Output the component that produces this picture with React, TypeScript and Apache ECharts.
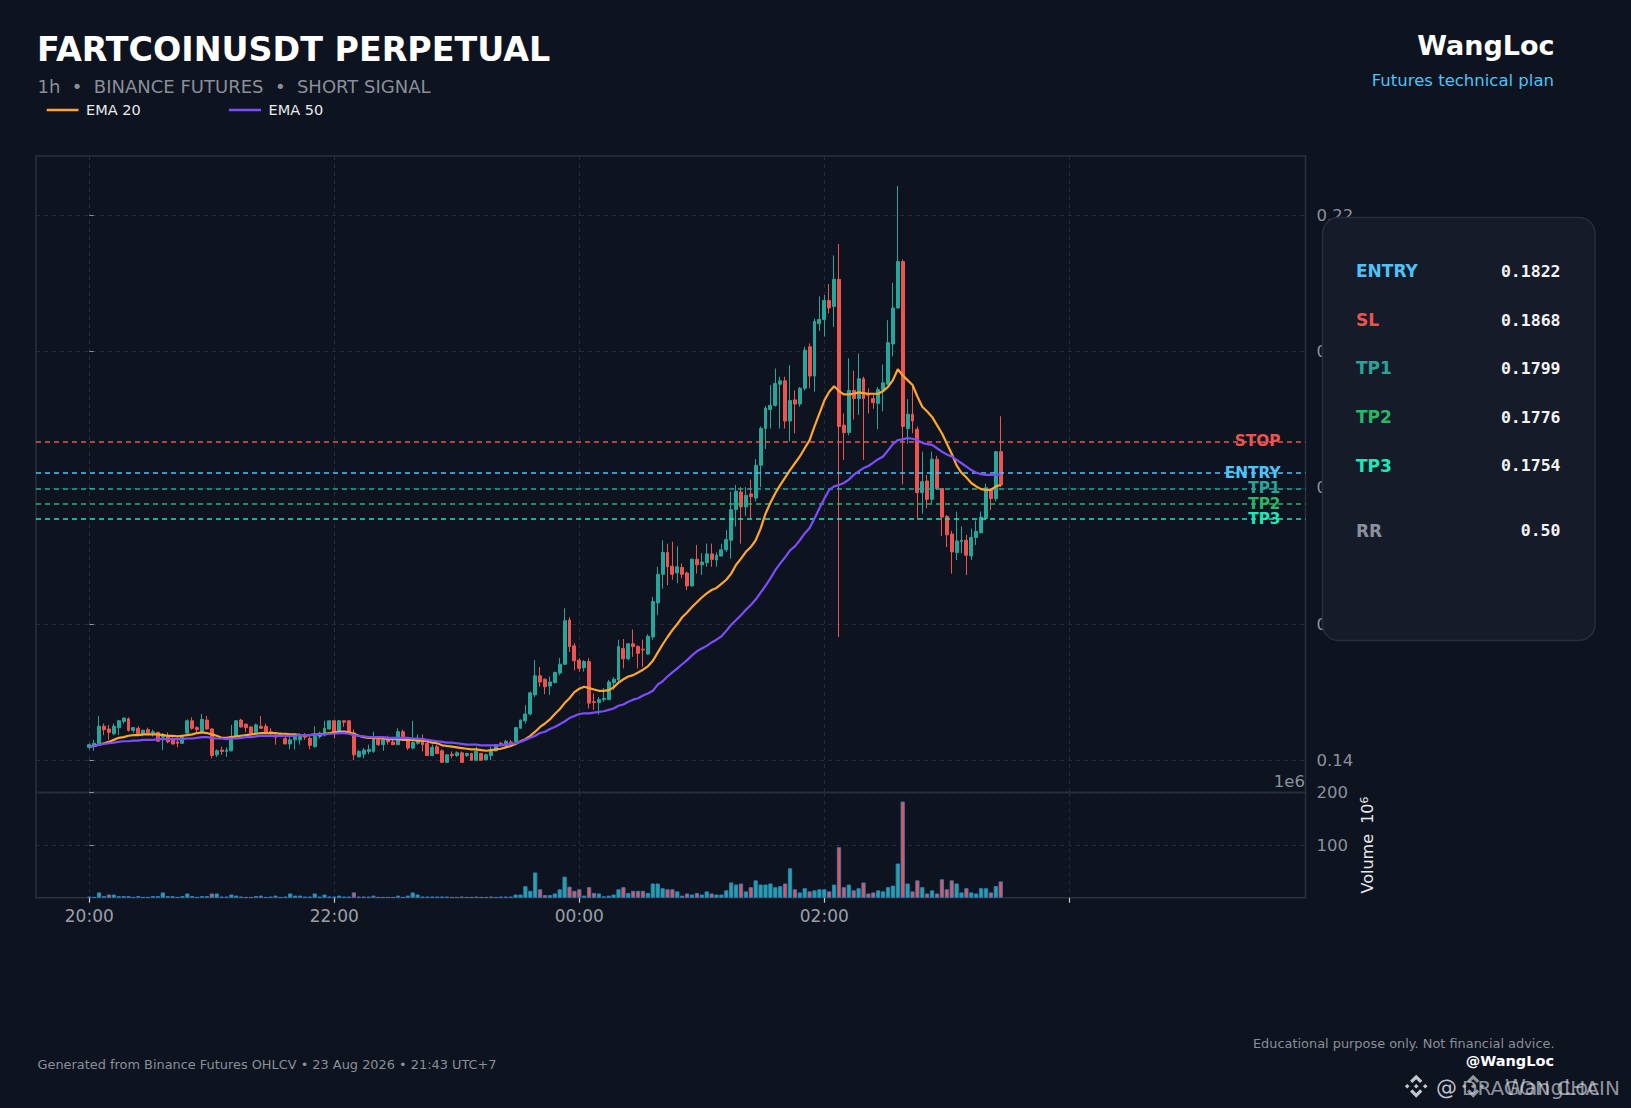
import React, { useEffect, useRef } from "react";
import * as echarts from "echarts";

// ---------- data ----------
const hourTickIndex = [0, 50, 100, 150, 200];
const hourTickLabels = ["20:00", "22:00", "00:00", "02:00", ""];

const opens = [
  0.1419,0.1420,0.1425,0.1450,0.1446,0.1439,0.1448,0.1457,0.1461,0.1444,
  0.1447,0.1439,0.1445,0.1440,0.1441,0.1434,0.1435,0.1430,0.1427,0.1425,
  0.1440,0.1458,0.1448,0.1442,0.1459,0.1446,0.1408,0.1415,0.1413,0.1414,
  0.1435,0.1459,0.1453,0.1449,0.1441,0.1450,0.1450,0.1442,0.1436,0.1436,
  0.1432,0.1424,0.1430,0.1430,0.1437,0.1432,0.1420,0.1435,0.1437,0.1446,
  0.1458,0.1442,0.1458,0.1458,0.1440,0.1405,0.1409,0.1413,0.1413,0.1430,
  0.1423,0.1431,0.1427,0.1423,0.1442,0.1430,0.1418,0.1425,0.1432,0.1425,
  0.1407,0.1420,0.1414,0.1397,0.1409,0.1407,0.1411,0.1407,0.1410,0.1400,
  0.1410,0.1401,0.1407,0.1414,0.1425,0.1421,0.1427,0.1427,0.1447,0.1458,
  0.1468,0.1496,0.1524,0.1519,0.1509,0.1514,0.1528,0.1541,0.1606,0.1568,
  0.1547,0.1536,0.1545,0.1486,0.1485,0.1489,0.1489,0.1514,0.1518,0.1564,
  0.1549,0.1571,0.1567,0.1563,0.1556,0.1581,0.1631,0.1673,0.1705,0.1685,
  0.1675,0.1683,0.1675,0.1656,0.1695,0.1687,0.1690,0.1703,0.1694,0.1700,
  0.1709,0.1723,0.1768,0.1794,0.1772,0.1791,0.1785,0.1833,0.1887,0.1915,
  0.1921,0.1952,0.1957,0.1898,0.1929,0.1923,0.1946,0.2007,0.1964,0.2041,
  0.2047,0.2075,0.2066,0.2106,0.1892,0.1881,0.1943,0.1931,0.1960,0.1938,
  0.1931,0.1924,0.1944,0.1952,0.2011,0.2064,0.2132,0.1887,0.1908,0.1886,
  0.1793,0.1810,0.1783,0.1842,0.1799,0.1758,0.1732,0.1705,0.1721,0.1723,
  0.1700,0.1727,0.1734,0.1755,0.1798,0.1784,0.1853,
];
const closes = [
  0.1423,0.1425,0.1450,0.1445,0.1441,0.1450,0.1458,0.1462,0.1444,0.1448,
  0.1439,0.1444,0.1440,0.1442,0.1428,0.1438,0.1427,0.1424,0.1425,0.1435,
  0.1458,0.1447,0.1445,0.1460,0.1446,0.1407,0.1414,0.1413,0.1415,0.1435,
  0.1458,0.1449,0.1448,0.1440,0.1452,0.1447,0.1441,0.1440,0.1434,0.1438,
  0.1424,0.1430,0.1435,0.1435,0.1434,0.1422,0.1435,0.1440,0.1447,0.1458,
  0.1440,0.1458,0.1456,0.1442,0.1408,0.1413,0.1415,0.1416,0.1432,0.1423,
  0.1430,0.1427,0.1423,0.1442,0.1435,0.1418,0.1426,0.1430,0.1423,0.1407,
  0.1419,0.1410,0.1397,0.1408,0.1407,0.1411,0.1397,0.1410,0.1400,0.1413,
  0.1400,0.1408,0.1413,0.1423,0.1424,0.1428,0.1426,0.1448,0.1459,0.1468,
  0.1499,0.1524,0.1515,0.1508,0.1515,0.1529,0.1541,0.1605,0.1567,0.1546,
  0.1535,0.1545,0.1484,0.1485,0.1489,0.1491,0.1515,0.1519,0.1567,0.1549,
  0.1571,0.1567,0.1557,0.1562,0.1582,0.1633,0.1673,0.1705,0.1684,0.1673,
  0.1684,0.1673,0.1656,0.1695,0.1687,0.1691,0.1703,0.1695,0.1701,0.1709,
  0.1724,0.1768,0.1795,0.1772,0.1789,0.1787,0.1833,0.1887,0.1917,0.1921,
  0.1953,0.1957,0.1898,0.1928,0.1923,0.1946,0.2002,0.1964,0.2044,0.2047,
  0.2075,0.2064,0.2106,0.1890,0.1881,0.1943,0.1931,0.1960,0.1931,0.1936,
  0.1925,0.1944,0.1954,0.2013,0.2064,0.2132,0.1890,0.1908,0.1898,0.1793,
  0.1809,0.1783,0.1842,0.1799,0.1757,0.1731,0.1706,0.1722,0.1723,0.1701,
  0.1727,0.1736,0.1757,0.1800,0.1784,0.1853,0.1804,
];
const lows = [
  0.1416,0.1414,0.1425,0.1437,0.1430,0.1437,0.1437,0.1454,0.1442,0.1440,
  0.1437,0.1435,0.1437,0.1435,0.1427,0.1415,0.1425,0.1423,0.1419,0.1424,
  0.1437,0.1445,0.1441,0.1441,0.1445,0.1403,0.1405,0.1408,0.1405,0.1413,
  0.1435,0.1448,0.1441,0.1437,0.1440,0.1447,0.1440,0.1437,0.1423,0.1434,
  0.1424,0.1416,0.1416,0.1423,0.1430,0.1416,0.1419,0.1432,0.1435,0.1445,
  0.1432,0.1440,0.1449,0.1440,0.1400,0.1405,0.1403,0.1409,0.1411,0.1421,
  0.1414,0.1423,0.1423,0.1423,0.1432,0.1415,0.1416,0.1423,0.1413,0.1406,
  0.1406,0.1409,0.1396,0.1396,0.1403,0.1405,0.1396,0.1405,0.1400,0.1400,
  0.1400,0.1400,0.1400,0.1413,0.1421,0.1420,0.1420,0.1426,0.1446,0.1454,
  0.1466,0.1493,0.1508,0.1497,0.1496,0.1513,0.1525,0.1540,0.1559,0.1532,
  0.1530,0.1530,0.1476,0.1474,0.1467,0.1486,0.1489,0.1503,0.1515,0.1535,
  0.1547,0.1552,0.1535,0.1537,0.1555,0.1577,0.1613,0.1652,0.1657,0.1665,
  0.1660,0.1667,0.1650,0.1655,0.1674,0.1672,0.1684,0.1684,0.1684,0.1699,
  0.1706,0.1696,0.1743,0.1718,0.1759,0.1755,0.1780,0.1801,0.1857,0.1887,
  0.1919,0.1887,0.1887,0.1868,0.1880,0.1919,0.1943,0.1946,0.1941,0.2030,
  0.2022,0.2056,0.2036,0.1581,0.1841,0.1877,0.1900,0.1907,0.1841,0.1909,
  0.1916,0.1886,0.1912,0.1951,0.1993,0.2063,0.1805,0.1865,0.1880,0.1753,
  0.1762,0.1770,0.1777,0.1797,0.1729,0.1713,0.1674,0.1694,0.1704,0.1672,
  0.1694,0.1716,0.1733,0.1753,0.1767,0.1780,0.1801,
];
const highs = [
  0.1425,0.1430,0.1465,0.1454,0.1452,0.1454,0.1459,0.1463,0.1463,0.1449,
  0.1450,0.1445,0.1448,0.1445,0.1442,0.1440,0.1441,0.1435,0.1432,0.1437,
  0.1460,0.1463,0.1450,0.1468,0.1465,0.1447,0.1416,0.1420,0.1419,0.1452,
  0.1459,0.1461,0.1454,0.1450,0.1454,0.1465,0.1454,0.1447,0.1440,0.1441,
  0.1435,0.1435,0.1437,0.1440,0.1440,0.1435,0.1450,0.1442,0.1458,0.1458,
  0.1459,0.1459,0.1458,0.1458,0.1445,0.1415,0.1418,0.1423,0.1442,0.1432,
  0.1431,0.1436,0.1431,0.1447,0.1445,0.1432,0.1458,0.1438,0.1438,0.1427,
  0.1423,0.1423,0.1416,0.1409,0.1413,0.1413,0.1413,0.1411,0.1411,0.1420,
  0.1411,0.1410,0.1420,0.1424,0.1427,0.1430,0.1430,0.1449,0.1460,0.1481,
  0.1501,0.1547,0.1537,0.1520,0.1523,0.1530,0.1550,0.1623,0.1610,0.1572,
  0.1550,0.1547,0.1550,0.1498,0.1493,0.1506,0.1518,0.1522,0.1577,0.1578,
  0.1572,0.1592,0.1569,0.1577,0.1585,0.1640,0.1684,0.1723,0.1718,0.1721,
  0.1714,0.1689,0.1677,0.1696,0.1716,0.1704,0.1718,0.1718,0.1705,0.1718,
  0.1738,0.1794,0.1804,0.1801,0.1801,0.1812,0.1842,0.1890,0.1920,0.1951,
  0.1975,0.1963,0.1963,0.1980,0.1943,0.1948,0.2007,0.2012,0.2048,0.2081,
  0.2083,0.2099,0.2141,0.2158,0.1909,0.1990,0.1972,0.1997,0.1963,0.1946,
  0.1938,0.1948,0.1981,0.2046,0.2101,0.2243,0.2135,0.1930,0.1951,0.1890,
  0.1853,0.1819,0.1853,0.1847,0.1799,0.1760,0.1737,0.1765,0.1743,0.1731,
  0.1740,0.1752,0.1765,0.1806,0.1799,0.1854,0.1905,
];
// volume in units of 1e6
const volumes = [
  2,1,10,3,6,6,3,3,3,1,
  3,1,1,3,3,10,3,3,1,3,
  8,3,1,3,3,8,8,2,2,6,
  4,2,1,1,3,4,1,2,4,1,
  2,8,4,4,2,2,8,2,6,2,
  2,4,2,2,10,2,2,2,4,1,
  1,1,1,4,1,4,10,6,2,2,
  2,2,2,2,1,1,2,1,1,2,
  1,1,2,1,2,2,2,6,6,22,
  13,48,16,5,5,8,16,40,21,13,
  16,4,20,9,8,2.5,4,6,16,20,
  9,13,13,13,9,27,27,18,16,16,
  12,4,8,6,9,6,12,8,6,6,
  14,29,25,27,12,20,33,25,25,27,
  20,22,27,56,16,10,18,12,14,16,
  16,12,25,96,20,25,14,18,29,8,
  10,14,12,20,23,65,183,27,12,33,
  20,8,14,8,35,16,33,27,10,18,
  10,8,18,18,10,22,31,
];
const ema20 = [
  0.1420,0.1421,0.1423,0.1425,0.1427,0.1430,0.1433,0.1434,0.1436,0.1437,
  0.1437,0.1438,0.1438,0.1438,0.1438,0.1437,0.1436,0.1436,0.1435,0.1436,
  0.1437,0.1438,0.1440,0.1441,0.1440,0.1438,0.1436,0.1433,0.1433,0.1434,
  0.1435,0.1436,0.1437,0.1438,0.1439,0.1440,0.1440,0.1440,0.1440,0.1439,
  0.1439,0.1438,0.1438,0.1437,0.1437,0.1437,0.1438,0.1438,0.1439,0.1440,
  0.1441,0.1442,0.1442,0.1441,0.1439,0.1436,0.1434,0.1433,0.1433,0.1432,
  0.1432,0.1431,0.1431,0.1431,0.1430,0.1430,0.1430,0.1429,0.1429,0.1428,
  0.1426,0.1425,0.1422,0.1421,0.1420,0.1419,0.1418,0.1417,0.1416,0.1416,
  0.1415,0.1414,0.1415,0.1416,0.1417,0.1419,0.1421,0.1424,0.1428,0.1431,
  0.1436,0.1442,0.1449,0.1454,0.1460,0.1468,0.1475,0.1484,0.1491,0.1500,
  0.1505,0.1508,0.1506,0.1504,0.1502,0.1502,0.1503,0.1507,0.1514,0.1519,
  0.1523,0.1525,0.1529,0.1533,0.1538,0.1546,0.1558,0.1570,0.1581,0.1591,
  0.1600,0.1610,0.1617,0.1625,0.1632,0.1639,0.1645,0.1650,0.1653,0.1659,
  0.1665,0.1674,0.1687,0.1696,0.1706,0.1713,0.1723,0.1740,0.1762,0.1778,
  0.1792,0.1804,0.1815,0.1826,0.1836,0.1846,0.1858,0.1870,0.1890,0.1909,
  0.1928,0.1941,0.1949,0.1942,0.1937,0.1937,0.1938,0.1940,0.1939,0.1938,
  0.1938,0.1938,0.1942,0.1948,0.1958,0.1974,0.1965,0.1958,0.1951,0.1934,
  0.1919,0.1912,0.1904,0.1892,0.1880,0.1865,0.1850,0.1833,0.1822,0.1815,
  0.1807,0.1802,0.1798,0.1797,0.1797,0.1802,0.1804,
];
const ema50 = [
  0.1420,0.1421,0.1423,0.1424,0.1425,0.1426,0.1427,0.1428,0.1428,0.1429,
  0.1429,0.1430,0.1430,0.1430,0.1431,0.1431,0.1431,0.1431,0.1431,0.1431,
  0.1432,0.1432,0.1433,0.1434,0.1434,0.1433,0.1432,0.1432,0.1431,0.1432,
  0.1432,0.1433,0.1434,0.1434,0.1435,0.1436,0.1436,0.1436,0.1436,0.1436,
  0.1436,0.1436,0.1436,0.1437,0.1437,0.1437,0.1438,0.1438,0.1438,0.1439,
  0.1439,0.1440,0.1440,0.1439,0.1437,0.1436,0.1435,0.1434,0.1434,0.1434,
  0.1434,0.1433,0.1433,0.1433,0.1433,0.1433,0.1432,0.1432,0.1431,0.1430,
  0.1429,0.1428,0.1427,0.1426,0.1426,0.1425,0.1424,0.1423,0.1423,0.1423,
  0.1422,0.1422,0.1422,0.1422,0.1422,0.1423,0.1424,0.1425,0.1427,0.1430,
  0.1433,0.1436,0.1440,0.1442,0.1446,0.1449,0.1453,0.1457,0.1462,0.1465,
  0.1468,0.1469,0.1469,0.1470,0.1471,0.1472,0.1474,0.1476,0.1480,0.1482,
  0.1486,0.1489,0.1491,0.1495,0.1498,0.1502,0.1511,0.1516,0.1523,0.1529,
  0.1535,0.1541,0.1547,0.1554,0.1560,0.1564,0.1568,0.1573,0.1577,0.1582,
  0.1590,0.1599,0.1606,0.1613,0.1621,0.1628,0.1636,0.1646,0.1656,0.1667,
  0.1679,0.1689,0.1698,0.1708,0.1714,0.1723,0.1733,0.1741,0.1755,0.1770,
  0.1784,0.1797,0.1802,0.1804,0.1807,0.1812,0.1819,0.1824,0.1829,0.1832,
  0.1837,0.1842,0.1846,0.1855,0.1864,0.1870,0.1871,0.1873,0.1872,0.1870,
  0.1866,0.1864,0.1863,0.1858,0.1853,0.1849,0.1846,0.1841,0.1836,0.1831,
  0.1826,0.1822,0.1820,0.1819,0.1819,0.1819,0.1820,
];

const priceTicks = [0.14, 0.16, 0.18, 0.2, 0.22];
const volumeTicks = [100, 200];

const levelNames = ["STOP", "ENTRY", "TP1", "TP2", "TP3"];
const levelValues = [0.1868, 0.1822, 0.1799, 0.1776, 0.1754];

const planLabels = ["ENTRY", "SL", "TP1", "TP2", "TP3", "RR"];
const planValues = ["0.1822", "0.1868", "0.1799", "0.1776", "0.1754", "0.50"];

// ---------- style ----------
const BG = "#0e1320";
const UP = "#26a69a";
const DOWN = "#ef5350";
const C_EMA20 = "#ffa62b";
const C_EMA50 = "#7c4dff";
const levelColors = ["#ef5350", "#4fc3f7", "#26a69a", "#2bb567", "#1de9b6"];
const planColors = ["#4fc3f7", "#ef5350", "#26a69a", "#2bb567", "#1de9b6", "#8b909c"];
const FONT = "'DejaVu Sans', sans-serif";
const MONO = "'DejaVu Sans Mono', monospace";
const GRID_LINE = "#252b37";
const FRAME = "#2c313d";
const AXIS_TXT = "#8b919c";

const X_MIN = (36 - 89.3) / 4.9;
const X_MAX = (1305.5 - 89.3) / 4.9;

echarts.graphic.registerShape(
  "bnbLogo",
  echarts.graphic.extendPath(
    "M12 1.5L17.6 7.1L15.5 9.2L12 5.7L8.5 9.2L6.4 7.1Z M3.8 9.9L5.9 12L3.8 14.1L1.7 12Z M12 9.9L14.1 12L12 14.1L9.9 12Z M20.2 9.9L22.3 12L20.2 14.1L18.1 12Z M12 22.5L6.4 16.9L8.5 14.8L12 18.3L15.5 14.8L17.6 16.9Z",
    {}
  )
);

function buildOption() {
  const candleData = opens.map((o, i) => [i, o, closes[i], lows[i], highs[i]]);
  const volData = volumes.map((v, i) => ({
    value: [i, v],
    itemStyle: { color: closes[i] >= opens[i] ? UP : DOWN },
  }));

  const gridLine = { show: true, lineStyle: { color: GRID_LINE, type: [4, 4], width: 1 } };

  const graphic: any[] = [
    { type: "text", x: 37, y: 49, z: 100, style: { text: "FARTCOINUSDT PERPETUAL", fill: "#ffffff", fontSize: 33.3, fontWeight: "bold", fontFamily: FONT, textVerticalAlign: "middle" } },
    { type: "text", x: 37.5, y: 86, z: 100, style: { text: "1h  •  BINANCE FUTURES  •  SHORT SIGNAL", fill: "#8a8f9a", fontSize: 18, fontFamily: FONT, textVerticalAlign: "middle" } },
    { type: "line", z: 100, shape: { x1: 46.7, y1: 110, x2: 78.5, y2: 110 }, style: { stroke: C_EMA20, lineWidth: 2.5 } },
    { type: "text", x: 86, y: 110, z: 100, style: { text: "EMA 20", fill: "#e8eaee", fontSize: 14.5, fontFamily: FONT, textVerticalAlign: "middle" } },
    { type: "line", z: 100, shape: { x1: 228.9, y1: 110, x2: 261, y2: 110 }, style: { stroke: C_EMA50, lineWidth: 2.5 } },
    { type: "text", x: 268.5, y: 110, z: 100, style: { text: "EMA 50", fill: "#e8eaee", fontSize: 14.5, fontFamily: FONT, textVerticalAlign: "middle" } },
    { type: "text", x: 1554.5, y: 45, z: 100, style: { text: "WangLoc", fill: "#ffffff", fontSize: 27, fontWeight: "bold", fontFamily: FONT, textAlign: "right", textVerticalAlign: "middle" } },
    { type: "text", x: 1554, y: 80.5, z: 100, style: { text: "Futures technical plan", fill: "#4fc3f7", fontSize: 16.5, fontFamily: FONT, textAlign: "right", textVerticalAlign: "middle" } },
    // plan panel
    { type: "rect", z: 100, shape: { x: 1322.5, y: 217.5, width: 272.5, height: 423, r: 16 }, style: { fill: "#161b2a", stroke: "#282e3c", lineWidth: 1.5 } },
    // 1e6 offset + volume label
    { type: "text", x: 1305, y: 781, z: 100, style: { text: "1e6", fill: AXIS_TXT, fontSize: 16.5, fontFamily: FONT, textAlign: "right", textVerticalAlign: "middle" } },
    {
      type: "text", x: 1367, y: 845, z: 100, rotation: Math.PI / 2,
      style: {
        text: "{a|Volume  10}{s|6}", fill: "#e8eaee", fontFamily: FONT, fontSize: 16, textAlign: "center", textVerticalAlign: "middle",
        rich: { a: { fontSize: 16, fill: "#e8eaee", fontFamily: FONT }, s: { fontSize: 11, fill: "#e8eaee", fontFamily: FONT, verticalAlign: "top" } },
      },
    },
    // footer
    { type: "text", x: 37.5, y: 1064.5, z: 100, style: { text: "Generated from Binance Futures OHLCV • 23 Aug 2026 • 21:43 UTC+7", fill: "#8a8f99", fontSize: 12.9, fontFamily: FONT, textVerticalAlign: "middle" } },
    { type: "text", x: 1554.5, y: 1043, z: 100, style: { text: "Educational purpose only. Not financial advice.", fill: "#8a8f99", fontSize: 12.9, fontFamily: FONT, textAlign: "right", textVerticalAlign: "middle" } },
    { type: "text", x: 1554, y: 1060.5, z: 100, style: { text: "@WangLoc", fill: "#ffffff", fontSize: 14.5, fontWeight: "bold", fontFamily: FONT, textAlign: "right", textVerticalAlign: "middle" } },
    // watermark
    { type: "bnbLogo", x: 1403, y: 1073, scaleX: 1.1, scaleY: 1.1, z: 101, style: { fill: "#d9dce2", opacity: 0.9 } },
    { type: "text", x: 1436, y: 1087.5, z: 101, style: { text: "@", fill: "#d9dce2", opacity: 0.9, fontSize: 21, fontFamily: FONT, textVerticalAlign: "middle" } },
    { type: "text", x: 1462, y: 1087.5, z: 101, style: { text: "DRAGON CHAIN", fill: "#d9dce2", opacity: 0.65, fontSize: 20, fontFamily: FONT, textVerticalAlign: "middle" } },
    { type: "bnbLogo", x: 1460, y: 1073, scaleX: 1.1, scaleY: 1.1, z: 101, style: { fill: "#d9dce2", opacity: 0.65 } },
    { type: "text", x: 1505, y: 1087.5, z: 101, style: { text: "WangLoc", fill: "#d9dce2", opacity: 0.65, fontSize: 21, fontFamily: FONT, textVerticalAlign: "middle" } },
  ];

  const rowY = [271, 320, 368.3, 417, 465.7, 530.7];
  planLabels.forEach((lab, i) => {
    graphic.push({ type: "text", x: 1356, y: rowY[i], z: 101, style: { text: lab, fill: planColors[i], fontSize: 17, fontWeight: "bold", fontFamily: FONT, textVerticalAlign: "middle" } });
    graphic.push({ type: "text", x: 1560.5, y: rowY[i], z: 101, style: { text: planValues[i], fill: "#f2f3f5", fontSize: 16.5, fontWeight: "bold", fontFamily: MONO, textAlign: "right", textVerticalAlign: "middle" } });
  });

  return {
    backgroundColor: BG,
    animation: false,
    grid: [
      { left: 36, top: 156, width: 1269.5, height: 636.6, show: true, borderColor: FRAME, borderWidth: 1.5, backgroundColor: "transparent", outerBoundsMode: "none", containLabel: false },
      { left: 36, top: 792.6, width: 1269.5, height: 105.1, show: true, borderColor: FRAME, borderWidth: 1.5, backgroundColor: "transparent", outerBoundsMode: "none", containLabel: false },
    ],
    xAxis: [
      {
        type: "value", gridIndex: 0, min: X_MIN, max: X_MAX,
        axisLine: { show: false }, axisTick: { show: false, customValues: hourTickIndex }, axisLabel: { show: false },
        splitLine: gridLine,
      },
      {
        type: "value", gridIndex: 1, min: X_MIN, max: X_MAX,
        axisLine: { show: false },
        axisTick: { show: true, length: 5, customValues: hourTickIndex, lineStyle: { color: "#c7cad0", width: 1.2 } },
        axisLabel: {
          show: true, customValues: hourTickIndex.slice(0, 4), margin: 10, color: "#9aa0a8", fontSize: 17, fontFamily: FONT,
          formatter: (v: number) => hourTickLabels[hourTickIndex.indexOf(Math.round(v))] || "",
        },
        splitLine: gridLine,
      },
    ],
    yAxis: [
      {
        type: "value", gridIndex: 0, position: "right", min: 0.13526, max: 0.2287, scale: true,
        axisLine: { show: false },
        axisTick: { show: true, length: 4.5, customValues: priceTicks, lineStyle: { color: AXIS_TXT } },
        axisLabel: { show: true, customValues: priceTicks, margin: 11, color: AXIS_TXT, fontSize: 16.5, fontFamily: FONT, formatter: (v: number) => v.toFixed(2) },
        splitLine: gridLine,
      },
      {
        type: "value", gridIndex: 1, position: "right", min: 0, max: 200,
        axisLine: { show: false },
        axisTick: { show: true, length: 4.5, customValues: volumeTicks, lineStyle: { color: AXIS_TXT } },
        axisLabel: { show: true, customValues: volumeTicks, margin: 11, color: AXIS_TXT, fontSize: 16.5, fontFamily: FONT, formatter: (v: number) => String(Math.round(v)) },
        splitLine: gridLine,
      },
    ],
    series: [
      {
        type: "candlestick", name: "FARTCOINUSDT", xAxisIndex: 0, yAxisIndex: 0, data: candleData, barWidth: 3.4, z: 3,
        itemStyle: { color: UP, color0: DOWN, borderColor: UP, borderColor0: DOWN, borderWidth: 1 },
        markLine: {
          symbol: ["none", "none"], silent: true, animation: false, z: 4, precision: 4,
          label: { show: true, position: "insideEnd", distance: 25, fontSize: 15.3, fontWeight: "bold", fontFamily: FONT },
          data: levelValues.map((v, i) => ({
            name: levelNames[i], yAxis: v,
            lineStyle: { color: levelColors[i], type: [5, 4], width: 1.7 },
            label: { formatter: levelNames[i], color: levelColors[i] },
          })),
        },
      },
      { type: "line", name: "EMA 20", xAxisIndex: 0, yAxisIndex: 0, data: ema20.map((v, i) => [i, v]), showSymbol: false, symbol: "none", z: 5, lineStyle: { color: C_EMA20, width: 2.2 } },
      { type: "line", name: "EMA 50", xAxisIndex: 0, yAxisIndex: 0, data: ema50.map((v, i) => [i, v]), showSymbol: false, symbol: "none", z: 5, lineStyle: { color: C_EMA50, width: 2.2 } },
      { type: "bar", name: "Volume", xAxisIndex: 1, yAxisIndex: 1, data: volData, barWidth: 4.2, itemStyle: { borderColor: "#2f80c6", borderWidth: 0.9 } },
    ],
    graphic,
  };
}

export default function App() {
  const ref = useRef<HTMLDivElement>(null);
  useEffect(() => {
    if (!ref.current) return;
    const chart = echarts.init(ref.current, null, { renderer: "svg" });
    chart.setOption(buildOption() as any);
    return () => chart.dispose();
  }, []);
  return (
    <div
      ref={ref}
      style={{ position: "absolute", left: 0, top: 0, width: 1631, height: 1108, background: BG }}
    />
  );
}
